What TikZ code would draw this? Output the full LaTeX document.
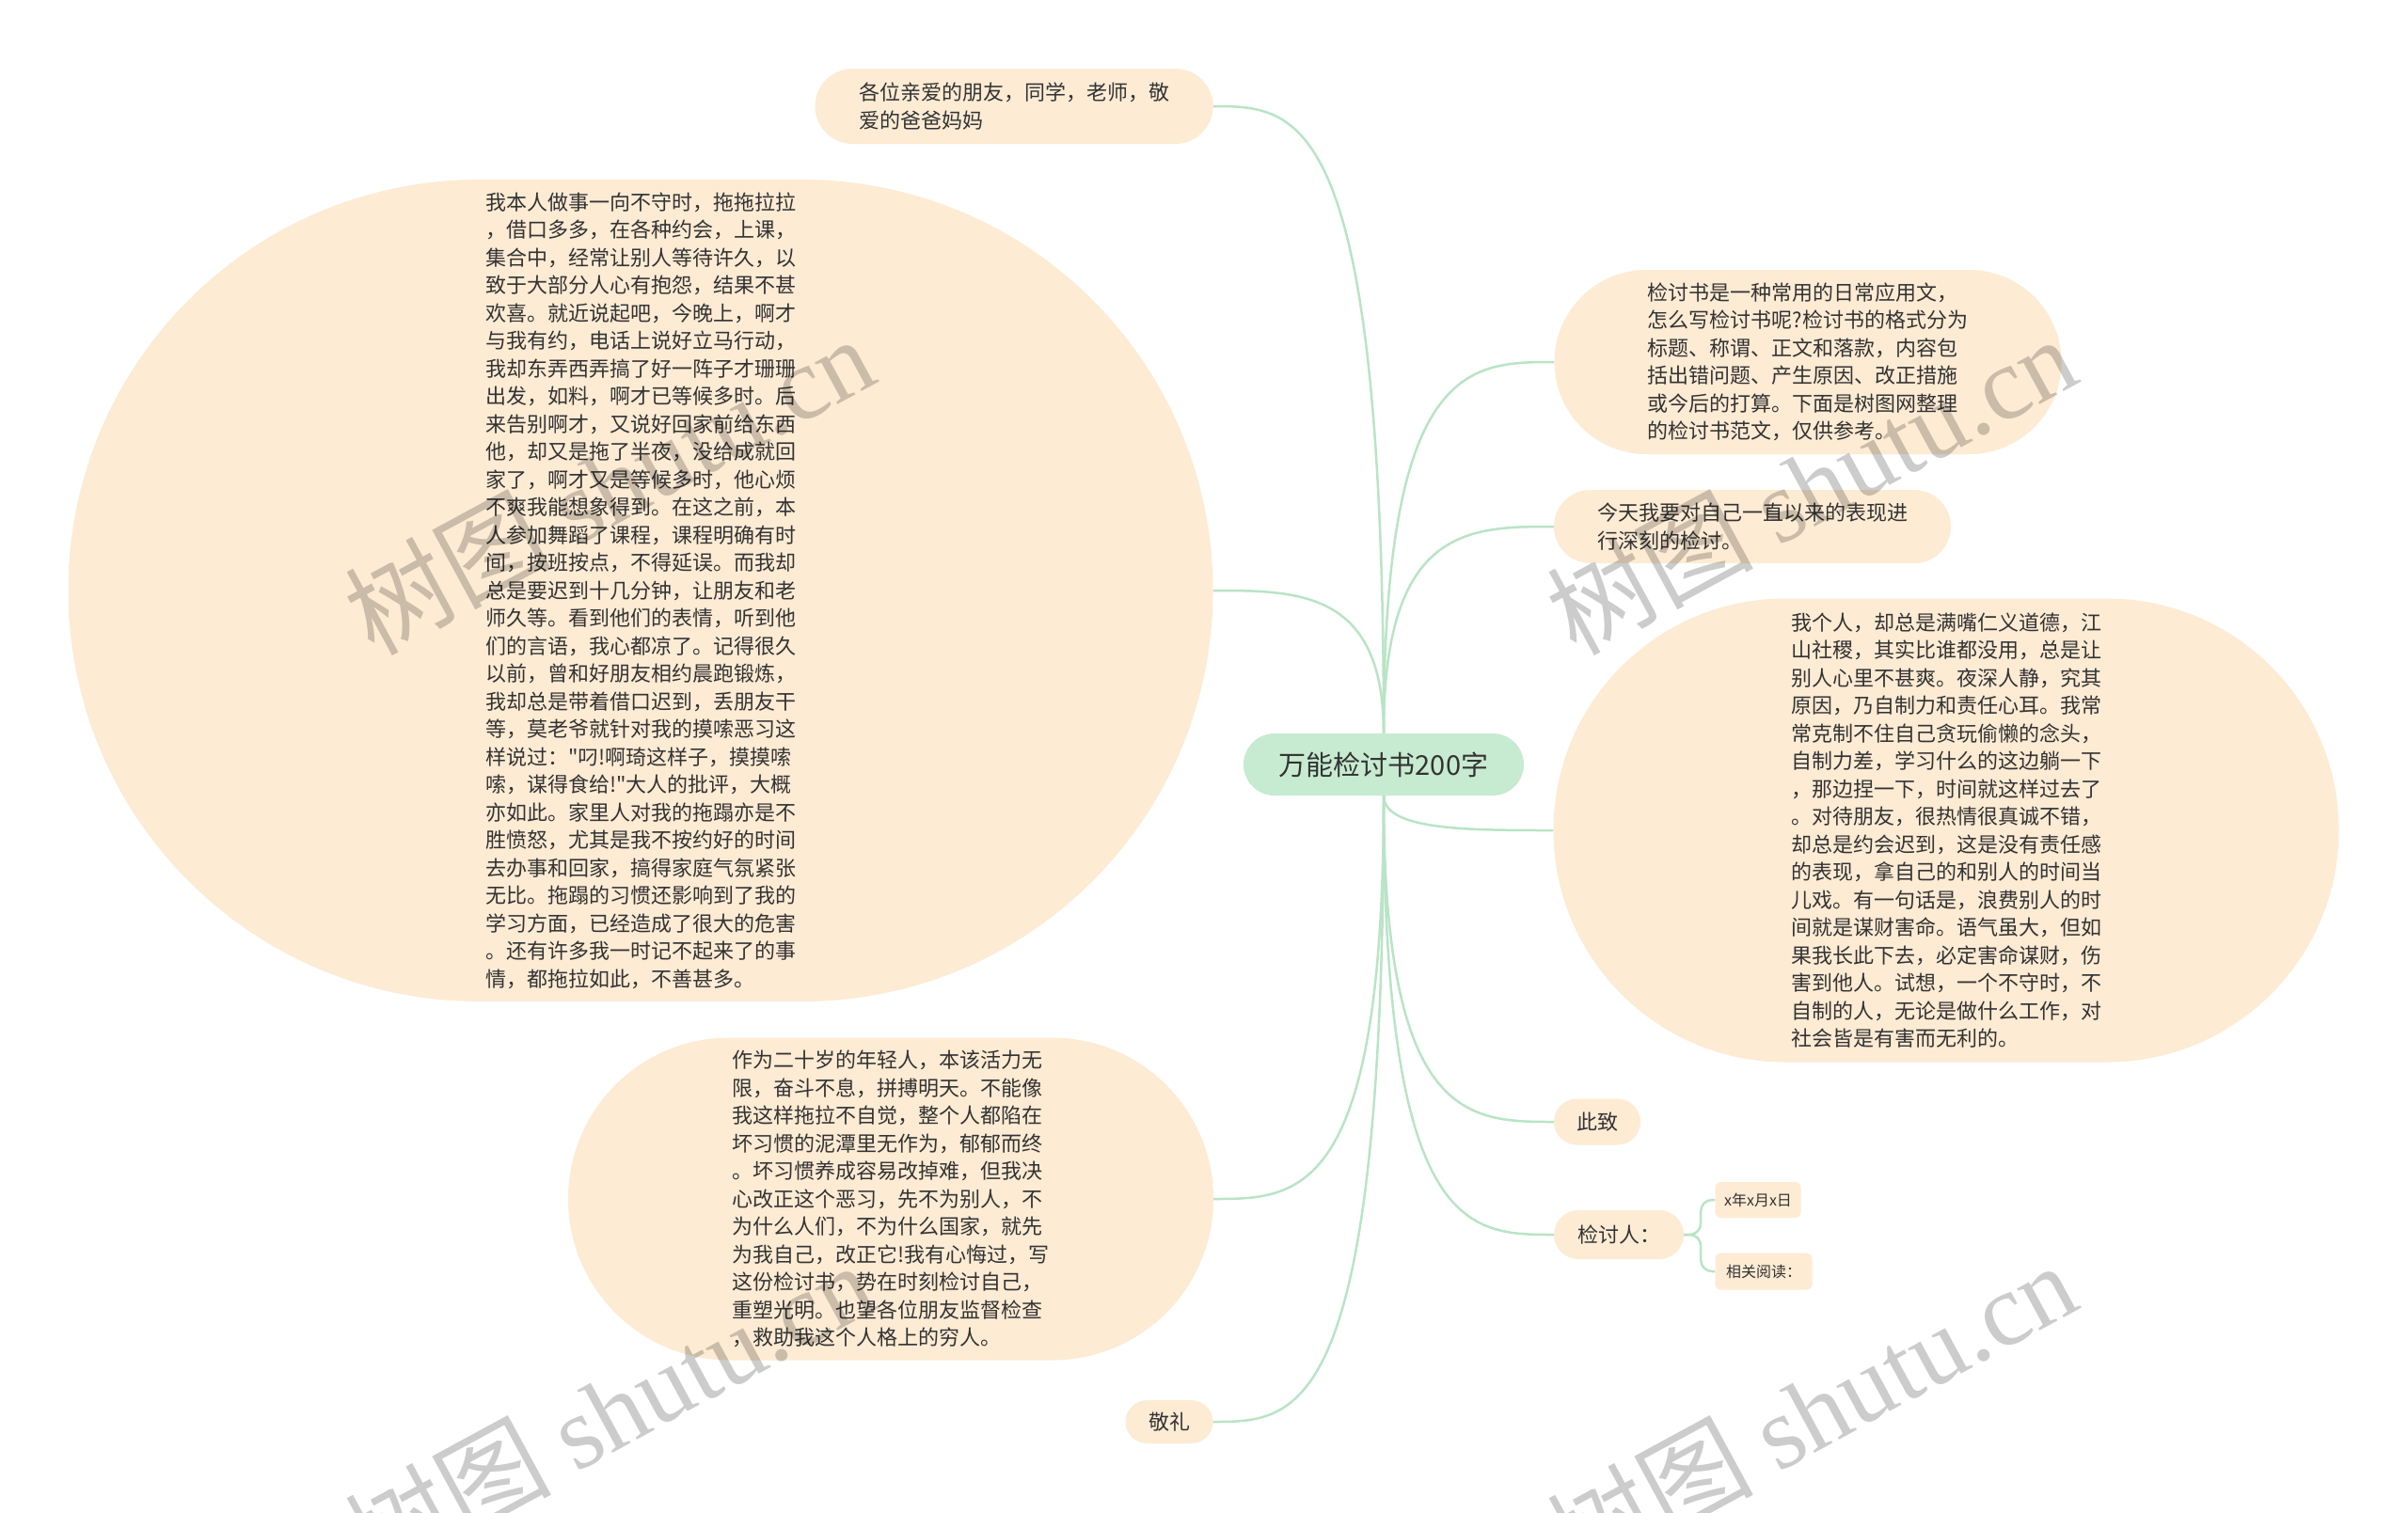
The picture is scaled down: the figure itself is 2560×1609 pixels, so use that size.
\documentclass[tikz,border=0pt]{standalone}
\usepackage{fontspec}
\setmainfont{Noto Sans CJK SC}[Ligatures=TeXOff]
\newfontfamily\wmlatin{Liberation Serif}
\usetikzlibrary{calc,backgrounds}
\definecolor{peach}{HTML}{FDEBD4}
\definecolor{rootg}{HTML}{C7EBD0}
\definecolor{connc}{HTML}{B9E4C6}
\definecolor{txt}{HTML}{333333}
\tikzset{
  bub/.style={fill=peach, inner sep=0pt, text=txt, align=left, font=\fontsize{22}{29.5}\selectfont},
  smallbub/.style={fill=peach, inner sep=0pt, text=txt, align=left, rounded corners=6pt, font=\fontsize{16}{20}\selectfont},
  conn/.style={draw=connc, line width=2.5pt},
  wm/.style={text=black, opacity=0.2, rotate=28.5, font=\fontsize{110}{110}\selectfont, inner sep=0pt},
}
\newcommand\mmconn[2]{\draw[conn] (#1) .. controls (#1 |- #2) and ($(#1 |- #2)!0.5!(#2)$) .. (#2);}
\begin{document}
\begin{tikzpicture}[x=1pt,y=-1pt]
\useasboundingbox (0,0) rectangle (2560,1609);

% root
\node[fill=rootg, text=txt, inner sep=0pt, minimum width=298pt, minimum height=66pt, rounded corners=33pt, font=\fontsize{29}{34}\selectfont] (root) at (1471,813) {万能检讨书200字};

% left side
\node[bub, minimum width=423pt, minimum height=80pt, rounded corners=40pt] (n1) at (1078,113) {各位亲爱的朋友，同学，老师，敬\\爱的爸爸妈妈};

\node[bub, minimum width=1217pt, minimum height=874pt, rounded corners=437pt] (n2) at (681,628) {我本人做事一向不守时，拖拖拉拉\\
，借口多多，在各种约会，上课，\\
集合中，经常让别人等待许久，以\\
致于大部分人心有抱怨，结果不甚\\
欢喜。就近说起吧，今晚上，啊才\\
与我有约，电话上说好立马行动，\\
我却东弄西弄搞了好一阵子才珊珊\\
出发，如料，啊才已等候多时。后\\
来告别啊才，又说好回家前给东西\\
他，却又是拖了半夜，没给成就回\\
家了，啊才又是等候多时，他心烦\\
不爽我能想象得到。在这之前，本\\
人参加舞蹈了课程，课程明确有时\\
间，按班按点，不得延误。而我却\\
总是要迟到十几分钟，让朋友和老\\
师久等。看到他们的表情，听到他\\
们的言语，我心都凉了。记得很久\\
以前，曾和好朋友相约晨跑锻炼，\\
我却总是带着借口迟到，丢朋友干\\
等，莫老爷就针对我的摸嗦恶习这\\
样说过："叼!啊琦这样子，摸摸嗦\\
嗦，谋得食给!"大人的批评，大概\\
亦如此。家里人对我的拖蹋亦是不\\
胜愤怒，尤其是我不按约好的时间\\
去办事和回家，搞得家庭气氛紧张\\
无比。拖蹋的习惯还影响到了我的\\
学习方面，已经造成了很大的危害\\
。还有许多我一时记不起来了的事\\
情，都拖拉如此，不善甚多。};

\node[bub, minimum width=686pt, minimum height=343pt, rounded corners=171.5pt] (n3) at (947,1275) {作为二十岁的年轻人，本该活力无\\
限，奋斗不息，拼搏明天。不能像\\
我这样拖拉不自觉，整个人都陷在\\
坏习惯的泥潭里无作为，郁郁而终\\
。坏习惯养成容易改掉难，但我决\\
心改正这个恶习，先不为别人，不\\
为什么人们，不为什么国家，就先\\
为我自己，改正它!我有心悔过，写\\
这份检讨书，势在时刻检讨自己，\\
重塑光明。也望各位朋友监督检查\\
，救助我这个人格上的穷人。};

\node[bub, minimum width=93pt, minimum height=46pt, rounded corners=23pt] (n4) at (1243,1512) {敬礼};

% right side
\node[bub, minimum width=539pt, minimum height=196pt, rounded corners=98pt] (n6) at (1922,385) {检讨书是一种常用的日常应用文，\\
怎么写检讨书呢?检讨书的格式分为\\
标题、称谓、正文和落款，内容包\\
括出错问题、产生原因、改正措施\\
或今后的打算。下面是树图网整理\\
的检讨书范文，仅供参考。};

\node[bub, minimum width=422pt, minimum height=78pt, rounded corners=39pt] (n7) at (1863,560) {今天我要对自己一直以来的表现进\\行深刻的检讨。};

\node[bub, minimum width=835pt, minimum height=493pt, rounded corners=246.5pt] (n8) at (2069,883) {我个人，却总是满嘴仁义道德，江\\
山社稷，其实比谁都没用，总是让\\
别人心里不甚爽。夜深人静，究其\\
原因，乃自制力和责任心耳。我常\\
常克制不住自己贪玩偷懒的念头，\\
自制力差，学习什么的这边躺一下\\
，那边捏一下，时间就这样过去了\\
。对待朋友，很热情很真诚不错，\\
却总是约会迟到，这是没有责任感\\
的表现，拿自己的和别人的时间当\\
儿戏。有一句话是，浪费别人的时\\
间就是谋财害命。语气虽大，但如\\
果我长此下去，必定害命谋财，伤\\
害到他人。试想，一个不守时，不\\
自制的人，无论是做什么工作，对\\
社会皆是有害而无利的。};

\node[bub, minimum width=92pt, minimum height=49pt, rounded corners=24.5pt] (n9) at (1698,1193) {此致};
\node[bub, minimum width=138pt, minimum height=52pt, rounded corners=26pt] (n10) at (1721,1313) {检讨人：};

\node[smallbub, minimum width=91pt, minimum height=38pt] (n11) at (1869,1276) {x年x月x日};
\node[smallbub, minimum width=103pt, minimum height=39pt] (n12) at (1875,1352) {相关阅读：};

% background and connectors
\begin{scope}[on background layer]
\fill[white] (0,0) rectangle (2560,1609);
\mmconn{root.north}{n1.east}
\mmconn{root.north}{n2.east}
\mmconn{root.south}{n3.east}
\mmconn{root.south}{n4.east}
\mmconn{root.north}{n6.west}
\mmconn{root.north}{n7.west}
\mmconn{root.south}{n8.west}
\mmconn{root.south}{n9.west}
\mmconn{root.south}{n10.west}
\coordinate (kfork) at ($(n10.east)+(18,0)$);
\draw[conn, rounded corners=12pt] (n10.east) -- (kfork) |- (n11.west);
\draw[conn, rounded corners=12pt] (n10.east) -- (kfork) |- (n12.west);
\end{scope}

% watermarks
\node[wm] (w1) at (647,515) {树图 {\wmlatin shutu.cn}};
\node[wm] (w2) at (1925,515) {树图 {\wmlatin shutu.cn}};
\node[wm] (w3) at (647,1500) {树图 {\wmlatin shutu.cn}};
\node[wm] (w4) at (1925,1500) {树图 {\wmlatin shutu.cn}};
\end{tikzpicture}
\end{document}
